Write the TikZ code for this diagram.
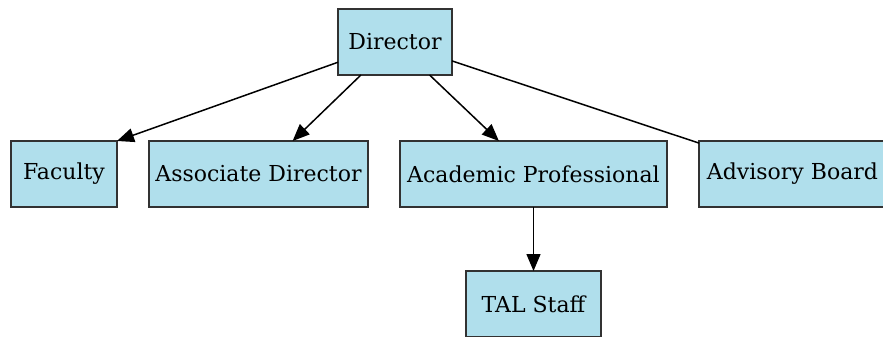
\documentclass[tikz,border=0pt]{standalone}
\usepackage{fontspec}
\setmainfont{DejaVu Serif}
\usetikzlibrary{arrows.meta,positioning}

\definecolor{boxblue}{RGB}{176,223,236}
\definecolor{boxline}{RGB}{50,50,50}

\begin{document}
\begin{tikzpicture}[x=1pt,y=-1pt,>={Triangle[length=17pt,width=14pt]},
    node distance=64pt and 32pt,
    every node/.style={font=\fontsize{22}{26}\selectfont},
    unit/.style={draw=boxline,line width=1.8pt,fill=boxblue,minimum height=66pt,
        inner sep=0pt,outer sep=0pt},
    link/.style={->,line width=1.5pt}]

\useasboundingbox (0,0) rectangle (883,337);

\node [unit, minimum width=114pt] (director) at (395,42) {Director};

% first level
\node [unit, minimum width=106pt, anchor=west] (faculty) at (11,174) {Faculty};
\node [unit, minimum width=219pt] (assoc) [right=of faculty] {Associate Director};
\node [unit, minimum width=267pt] (acad) [right=of assoc] {Academic Professional};
\node [unit, minimum width=187pt] (board) [right=of acad] {Advisory Board};

% second level
\node [unit, minimum width=135pt] (tal) [below=of acad] {TAL Staff};

\draw [link] (director) -- (faculty.north east);
\draw [link] (director) -- (assoc);
\draw [link] (director) -- (acad);
\draw [line width=1.5pt] (director) -- (board);
\draw [link] (acad) -- (tal);

\end{tikzpicture}
\end{document}
